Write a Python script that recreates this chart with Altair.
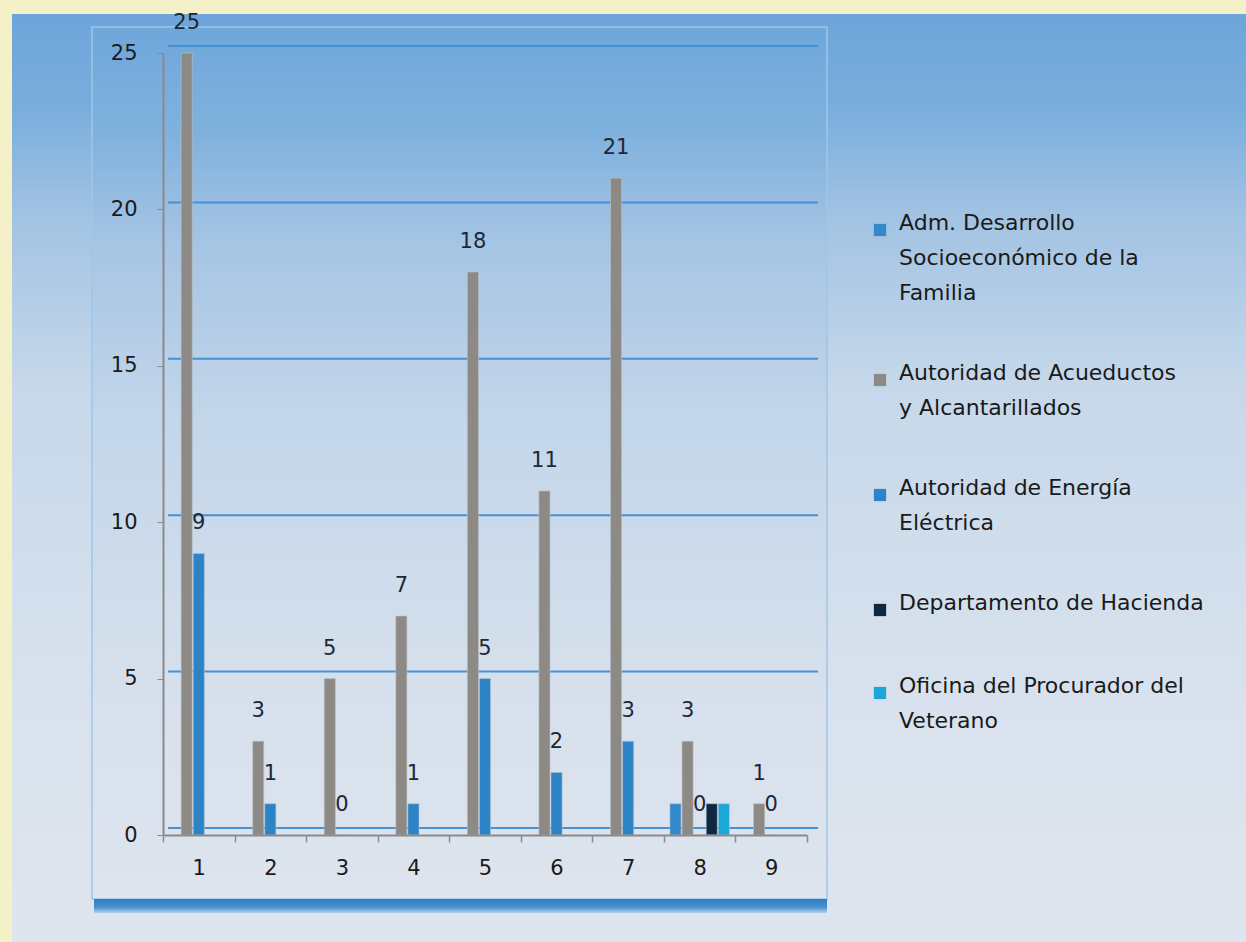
import altair as alt
import pandas as pd

# ---------------- data ----------------
categories = ["1", "2", "3", "4", "5", "6", "7", "8", "9"]
series_names = [
    "Adm. Desarrollo Socioeconómico de la Familia",
    "Autoridad de Acueductos y Alcantarillados",
    "Autoridad de Energía Eléctrica",
    "Departamento de Hacienda",
    "Oficina del Procurador  del Veterano",
]
adm_desarrollo = [None, None, None, None, None, None, None, 1, None]
acueductos = [25, 3, 5, 7, 18, 11, 21, 3, 1]
energia = [9, 1, 0, 1, 5, 2, 3, 0, 0]
hacienda = [None, None, None, None, None, None, None, 1, None]
procurador = [None, None, None, None, None, None, None, 1, None]
series_values = [adm_desarrollo, acueductos, energia, hacienda, procurador]
series_colors = ["#3388ca", "#8d8985", "#2c83c6", "#0e2841", "#1ba7da"]
labelled_series = [series_names[1], series_names[2]]
y_ticks = [0, 5, 10, 15, 20, 25]
legend_lines = [
    ["Adm. Desarrollo", "Socioeconómico de la", "Familia"],
    ["Autoridad de Acueductos", "y Alcantarillados"],
    ["Autoridad de Energía", "Eléctrica"],
    ["Departamento de Hacienda"],
    ["Oficina del Procurador  del", "Veterano"],
]

rows = []
for name, vals in zip(series_names, series_values):
    for cat, v in zip(categories, vals):
        if v is not None:
            rows.append({"cat": cat, "series": name, "value": v})
df = pd.DataFrame(rows)
grid_df = pd.DataFrame({"value": y_ticks})

# ---------------- layout ----------------
W, H = 644, 782
PAD_L, PAD_T = 163, 53
PAD_R = 1246 - PAD_L - W
PAD_B = 942 - PAD_T - H
FONT = "DejaVu Sans"

one = alt.Data(values=[{"k": 0}])


def grad(stops):
    return alt.Gradient(
        gradient="linear", x1=0, y1=0, x2=0, y2=1,
        stops=[alt.GradientStop(offset=o, color=c) for o, c in stops],
    )


panel = alt.Chart(one).mark_rect(
    fill=grad([(0, "#6ea5da"), (0.1, "#79addc"), (0.22, "#a2c3e3"),
               (0.4, "#c6d8ea"), (0.7, "#d7e1ed"), (1, "#dfe5ee")])
).encode(x=alt.value(12 - PAD_L), x2=alt.value(1246 - PAD_L),
         y=alt.value(14 - PAD_T), y2=alt.value(942 - PAD_T))

frame = alt.Chart(one).mark_rect(
    fill=grad([(0, "#6fa7db"), (0.12, "#7fb1dd"), (0.25, "#a6c5e4"),
               (0.45, "#c3d6ea"), (0.75, "#d6e0ec"), (1, "#dde4ee")]),
    stroke="#9fc6e8", strokeWidth=1.5,
).encode(x=alt.value(92 - PAD_L), x2=alt.value(827 - PAD_L),
         y=alt.value(27 - PAD_T), y2=alt.value(899 - PAD_T))

shadow = alt.Chart(one).mark_rect(
    fill=grad([(0, "#2f7fc4"), (0.6, "#4b92cf"), (1, "#b9d0e8")])
).encode(x=alt.value(94 - PAD_L), x2=alt.value(827 - PAD_L),
         y=alt.value(899 - PAD_T), y2=alt.value(913 - PAD_T))

y_scale = alt.Scale(domain=[0, 25], nice=False)
y_axis = alt.Axis(title=None, values=y_ticks, grid=False,
                  domainColor="#8a8a8a", domainWidth=2,
                  tickColor="#8a8a8a", tickSize=6, labelPadding=20,
                  labelFontSize=21, labelFont=FONT,
                  labelColor="#1a1a1a", zindex=1)
x_enc = alt.X(
    "cat:N", sort=categories,
    scale=alt.Scale(paddingInner=0, paddingOuter=0),
    axis=alt.Axis(title=None, labelAngle=0, tickBand="extent", grid=False,
                  domainColor="#8a8a8a", domainWidth=2, tickColor="#8a8a8a",
                  tickWidth=1.5, tickSize=7, labelPadding=15, labelFontSize=21,
                  labelFont=FONT, labelColor="#1a1a1a", zindex=1),
)
off_enc = alt.XOffset(
    "series:N",
    scale=alt.Scale(domain=series_names, paddingInner=0.08, paddingOuter=0.5),
)

# back-wall gridlines (slightly raised, as in the 3-D original)
grid = alt.Chart(grid_df).mark_rule(color="#4691d3", strokeWidth=2, yOffset=-7).encode(
    y=alt.Y("value:Q", scale=y_scale, axis=y_axis),
    x=alt.value(5), x2=alt.value(W + 11),
)

bars = alt.Chart(df).mark_bar(stroke="#b9c3cc", strokeWidth=0.6).encode(
    x=x_enc,
    xOffset=off_enc,
    y=alt.Y("value:Q", scale=y_scale, axis=y_axis),
    color=alt.Color(
        "series:N",
        scale=alt.Scale(domain=series_names, range=series_colors),
        legend=alt.Legend(
            title=None, orient="none", legendX=706, legendY=166,
            symbolType="square", symbolSize=150, symbolStrokeWidth=0,
            labelFontSize=22, labelFont=FONT, labelColor="#1a1a1a",
            labelLimit=420, rowPadding=58, labelOffset=8,
            labelBaseline="alphabetic",
            labelExpr=" : ".join(
                f"datum.label == '{n}' ? {l!r}" for n, l in zip(series_names, legend_lines)
            ) + " : datum.label",
        ),
    ),
)

labels = alt.Chart(df).transform_filter(
    alt.FieldOneOfPredicate(field="series", oneOf=labelled_series)
).mark_text(baseline="bottom", dy=-20, fontSize=21, font=FONT, color="#1b2838").encode(
    x=alt.X("cat:N", sort=categories),
    xOffset=alt.XOffset("series:N"),
    y=alt.Y("value:Q", scale=y_scale),
    text=alt.Text("value:Q"),
)

chart = alt.layer(panel, frame, shadow, grid, bars, labels).properties(
    width=W, height=H,
    padding={"left": PAD_L, "top": PAD_T, "right": PAD_R, "bottom": PAD_B},
    autosize=alt.AutoSizeParams(type="none"),
    background="#f4f0c8",
).configure_view(strokeWidth=0).configure(style={"guide-label": {"lineHeight": 35}})

chart.save("out.html", embed_options={"renderer": "svg", "actions": False})
